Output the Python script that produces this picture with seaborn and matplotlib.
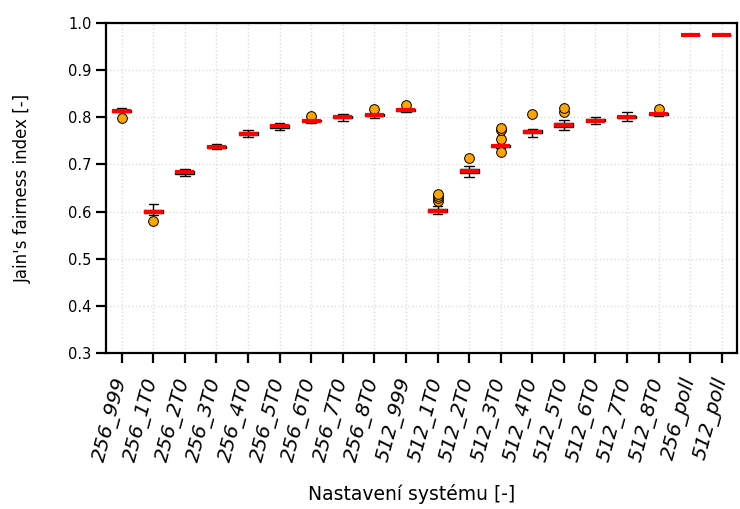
import numpy as np
import pandas as pd
import matplotlib
matplotlib.use("Agg")
import matplotlib.pyplot as plt
import seaborn as sns

categories = ["256_999", "256_1T0", "256_2T0", "256_3T0", "256_4T0", "256_5T0",
              "256_6T0", "256_7T0", "256_8T0", "512_999", "512_1T0", "512_2T0",
              "512_3T0", "512_4T0", "512_5T0", "512_6T0", "512_7T0", "512_8T0",
              "256_poll", "512_poll"]

s256_999 = [0.799, 0.810, 0.812, 0.813, 0.814, 0.815, 0.816, 0.818, 0.820]
s256_1T0 = [0.580, 0.592, 0.596, 0.597, 0.598, 0.600, 0.604, 0.610, 0.615]
s256_2T0 = [0.675, 0.678, 0.680, 0.682, 0.683, 0.684, 0.686, 0.688, 0.690]
s256_3T0 = [0.732, 0.734, 0.735, 0.736, 0.737, 0.738, 0.740, 0.742, 0.744]
s256_4T0 = [0.757, 0.760, 0.762, 0.763, 0.764, 0.766, 0.768, 0.770, 0.773]
s256_5T0 = [0.773, 0.776, 0.778, 0.780, 0.781, 0.782, 0.784, 0.786, 0.788]
s256_6T0 = [0.787, 0.789, 0.791, 0.792, 0.793, 0.794, 0.795, 0.797, 0.803]
s256_7T0 = [0.792, 0.795, 0.798, 0.799, 0.800, 0.801, 0.803, 0.805, 0.807]
s256_8T0 = [0.798, 0.800, 0.802, 0.803, 0.804, 0.805, 0.806, 0.809, 0.817]
s512_999 = [0.811, 0.812, 0.814, 0.815, 0.8155, 0.816, 0.817, 0.819, 0.826]
s512_1T0 = [0.594, 0.595, 0.596, 0.597, 0.598, 0.599, 0.600, 0.600, 0.601, 0.601,
            0.602, 0.603, 0.603, 0.604, 0.605, 0.606, 0.611, 0.622, 0.628, 0.633, 0.638]
s512_2T0 = [0.674, 0.678, 0.682, 0.684, 0.686, 0.688, 0.690, 0.697, 0.713]
s512_3T0 = [0.727, 0.734, 0.735, 0.736, 0.737, 0.738, 0.738, 0.739, 0.739, 0.740,
            0.741, 0.741, 0.742, 0.744, 0.753, 0.773, 0.778]
s512_4T0 = [0.758, 0.762, 0.766, 0.768, 0.769, 0.770, 0.772, 0.775, 0.806]
s512_5T0 = [0.773, 0.776, 0.778, 0.780, 0.782, 0.783, 0.784, 0.786, 0.787, 0.788,
            0.794, 0.810, 0.820]
s512_6T0 = [0.786, 0.789, 0.791, 0.792, 0.793, 0.794, 0.796, 0.798, 0.801]
s512_7T0 = [0.792, 0.795, 0.798, 0.799, 0.801, 0.802, 0.803, 0.806, 0.810]
s512_8T0 = [0.803, 0.804, 0.805, 0.805, 0.806, 0.807, 0.808, 0.810, 0.817]
s256_poll = [0.9735, 0.974, 0.974, 0.974, 0.9745, 0.975, 0.975, 0.975, 0.9755]
s512_poll = [0.9735, 0.974, 0.974, 0.974, 0.9745, 0.975, 0.975, 0.975, 0.9755]

series = [s256_999, s256_1T0, s256_2T0, s256_3T0, s256_4T0, s256_5T0, s256_6T0,
          s256_7T0, s256_8T0, s512_999, s512_1T0, s512_2T0, s512_3T0, s512_4T0,
          s512_5T0, s512_6T0, s512_7T0, s512_8T0, s256_poll, s512_poll]

rows = []
for cat, vals in zip(categories, series):
    for v in vals:
        rows.append({"setting": cat, "jfi": v})
df = pd.DataFrame(rows)

sns.set_style("ticks")
plt.rcParams['font.family'] = ['DejaVu Sans']
plt.rcParams['text.color'] = 'black'
plt.rcParams['axes.labelcolor'] = 'black'
plt.rcParams['xtick.color'] = 'black'
plt.rcParams['ytick.color'] = 'black'

fig = plt.figure(figsize=(7.4, 5.09), dpi=100)
ax = fig.add_axes([0.1432, 0.3065, 0.8534, 0.6485])

sns.boxplot(data=df, x="setting", y="jfi", order=categories, ax=ax, width=0.6,
            color="white", linecolor="black", linewidth=1.0,
            medianprops=dict(color="red", linewidth=3),
            flierprops=dict(marker="o", markerfacecolor="orange",
                            markeredgecolor="black", markersize=7,
                            markeredgewidth=0.7),
            boxprops=dict(facecolor="white", edgecolor="black"),
            zorder=3)

ax.set_ylim(0.3, 1.0)
ax.set_xlim(-0.5, len(categories) - 0.5)
ax.set_yticks(np.arange(0.3, 1.01, 0.1))
ax.set_yticklabels([f"{t:.1f}" for t in np.arange(0.3, 1.01, 0.1)], fontsize=10.5)
ax.grid(True, linestyle=":", color="#dcdcdc", linewidth=1.0, zorder=0)
ax.set_axisbelow(True)
ax.set_xticks(range(len(categories)))
ax.set_xticklabels(categories, rotation=75, fontstyle="italic", fontsize=14.5,
                   ha="right", va="center", rotation_mode="anchor")
ax.set_xlabel("Nastavení systému [-]", fontsize=13.5, labelpad=14)
ax.xaxis.label.set_x(0.484)
ax.set_ylabel("Jain's fairness index [-]", fontsize=12, labelpad=26)
for sp in ax.spines.values():
    sp.set_visible(True)
    sp.set_linewidth(1.6)
    sp.set_color("black")
ax.tick_params(axis="both", direction="out", length=7, width=1.6, color="black")
ax.tick_params(axis="x", pad=11)

fig.savefig("out.png", dpi=100)
